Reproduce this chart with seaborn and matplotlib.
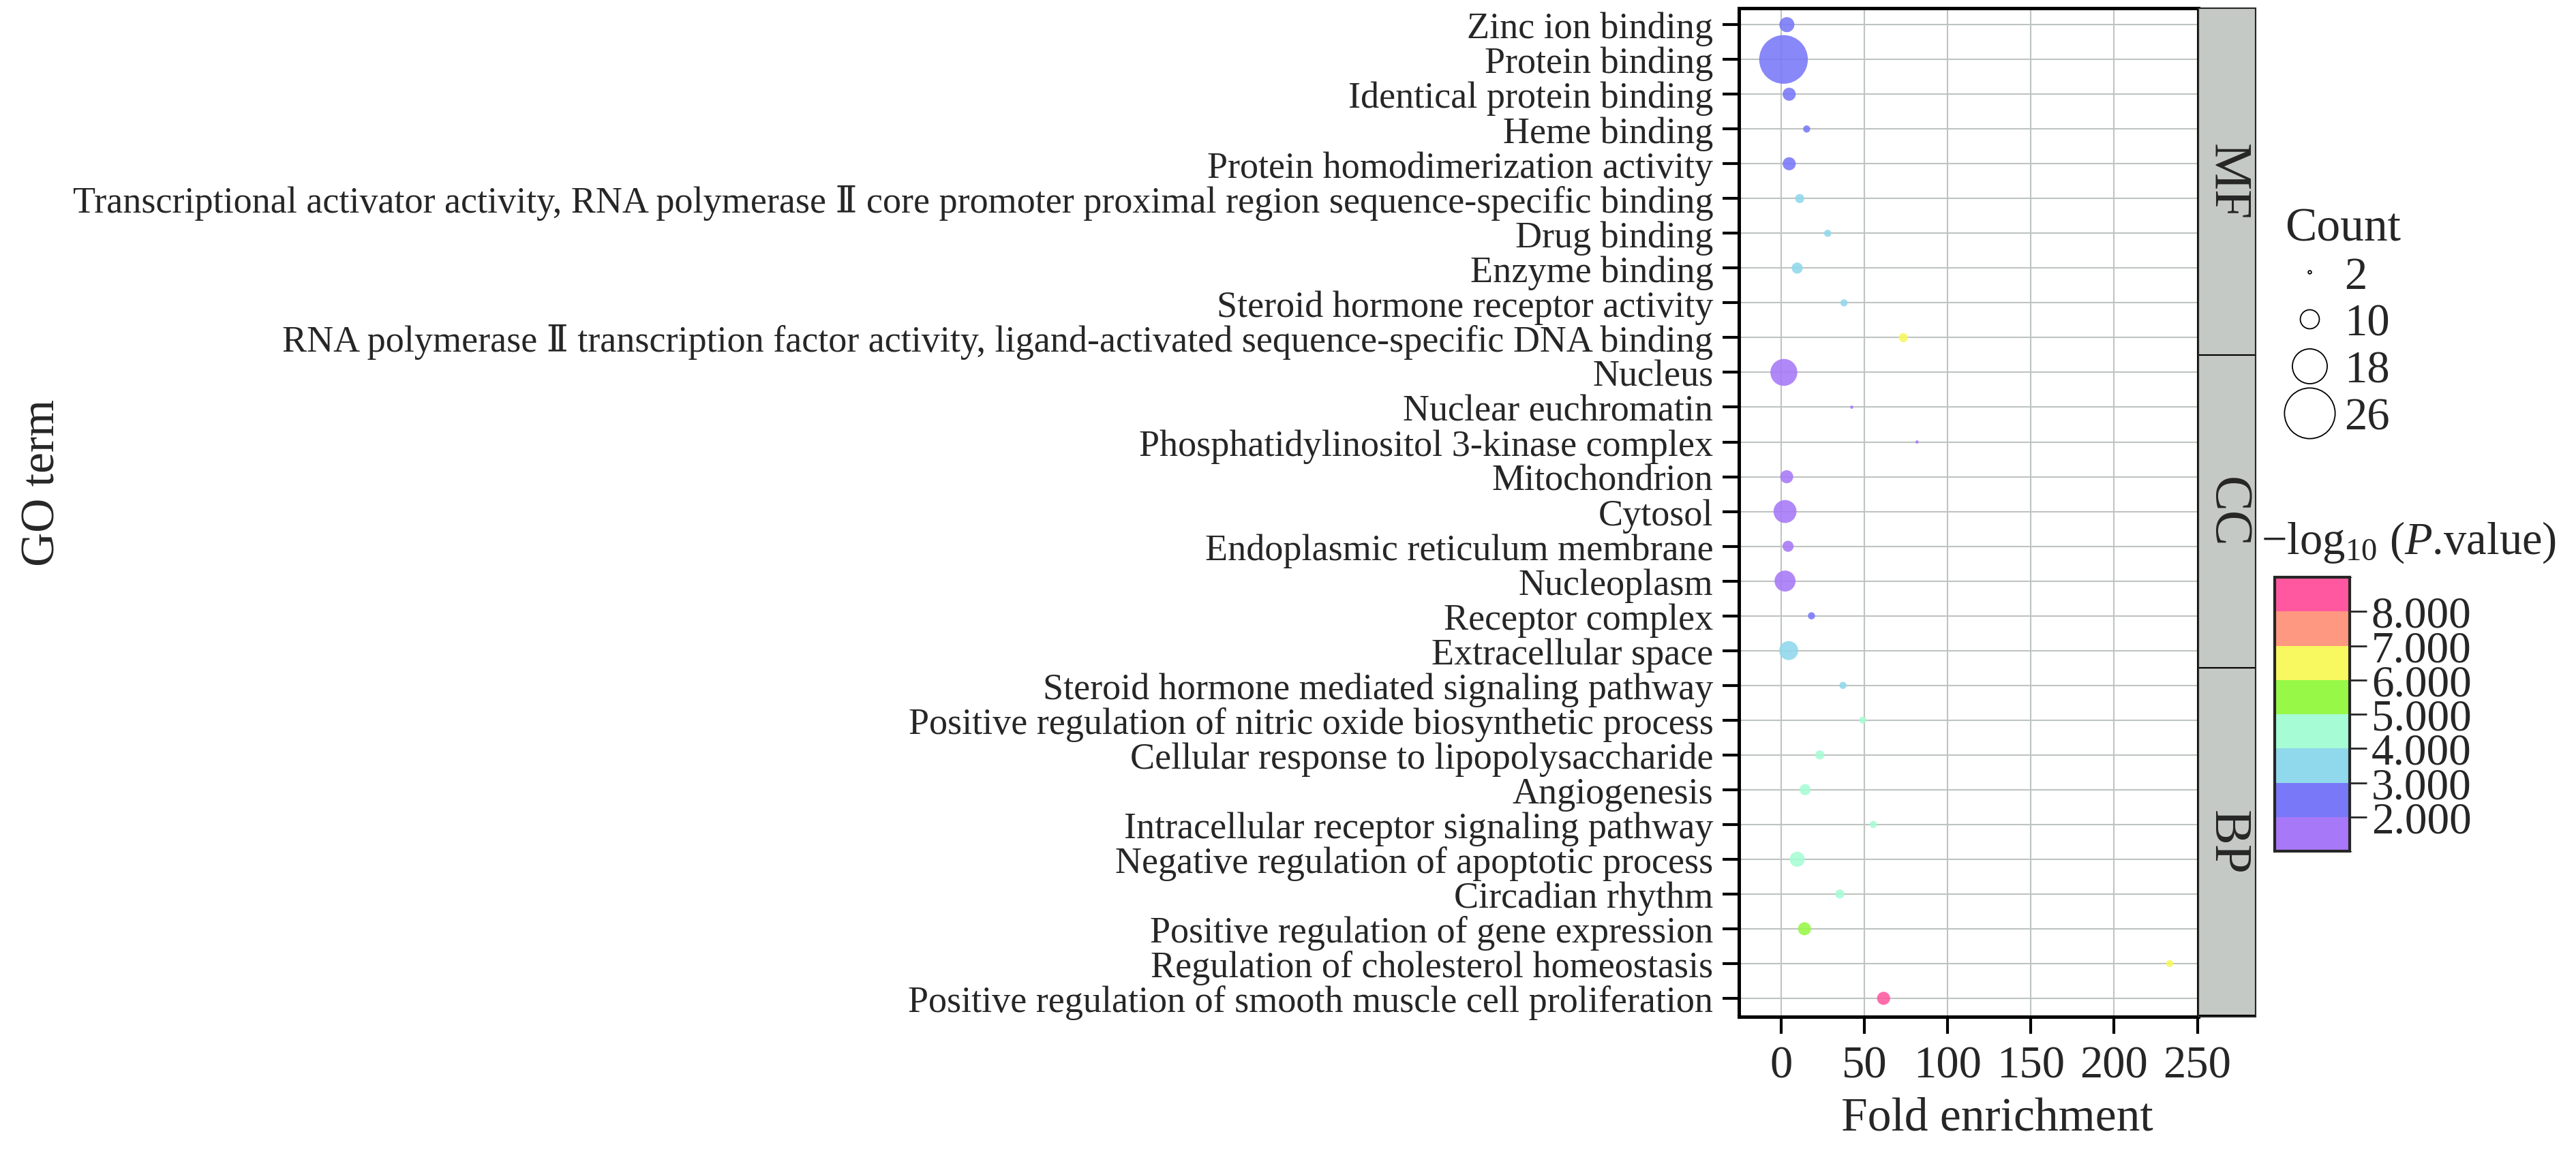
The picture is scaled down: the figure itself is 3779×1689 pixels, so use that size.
import numpy as np
import pandas as pd
import seaborn as sns
import matplotlib as mpl
import matplotlib.pyplot as plt
from matplotlib.colors import ListedColormap, BoundaryNorm
from matplotlib.lines import Line2D

# ---- data ----
mf_terms = [
    "Zinc ion binding",
    "Protein binding",
    "Identical protein binding",
    "Heme binding",
    "Protein homodimerization activity",
    "Transcriptional activator activity, RNA polymerase \u2161 core promoter proximal region sequence-specific binding",
    "Drug binding",
    "Enzyme binding",
    "Steroid hormone receptor activity",
    "RNA polymerase \u2161 transcription factor activity, ligand-activated sequence-specific DNA binding",
]
mf_fold = [3.4, 1.4, 4.8, 15.3, 4.8, 11.1, 27.9, 9.6, 37.7, 73.4]
mf_count = [8, 25, 7, 4, 7, 5, 4, 6, 4, 5]
mf_logp = [2.5, 2.6, 2.4, 2.3, 2.4, 3.4, 3.3, 3.5, 3.2, 6.4]

cc_terms = [
    "Nucleus",
    "Nuclear euchromatin",
    "Phosphatidylinositol 3-kinase complex",
    "Mitochondrion",
    "Cytosol",
    "Endoplasmic reticulum membrane",
    "Nucleoplasm",
    "Receptor complex",
    "Extracellular space",
]
cc_fold = [1.6, 42.4, 81.6, 3.3, 2.3, 4.1, 2.3, 18.2, 4.5]
cc_count = [14, 2, 2, 7, 12, 6, 11, 4, 10]
cc_logp = [1.8, 1.5, 1.4, 1.7, 1.6, 1.7, 1.7, 2.3, 3.3]

bp_terms = [
    "Steroid hormone mediated signaling pathway",
    "Positive regulation of nitric oxide biosynthetic process",
    "Cellular response to lipopolysaccharide",
    "Angiogenesis",
    "Intracellular receptor signaling pathway",
    "Negative regulation of apoptotic process",
    "Circadian rhythm",
    "Positive regulation of gene expression",
    "Regulation of cholesterol homeostasis",
    "Positive regulation of smooth muscle cell proliferation",
]
bp_fold = [37.1, 49.0, 23.2, 14.3, 55.3, 9.6, 35.2, 14.0, 233.4, 61.5]
bp_count = [4, 4, 5, 6, 4, 8, 5, 7, 4, 7]
bp_logp = [3.5, 4.3, 4.4, 4.2, 4.5, 4.6, 4.3, 5.4, 6.2, 8.3]

ontologies = ["MF", "CC", "BP"]
group_sizes = [len(mf_terms), len(cc_terms), len(bp_terms)]

# binned colour scale for -log10(P)
bin_edges = [1, 2, 3, 4, 5, 6, 7, 8, 9]
bin_colors = ["#a778f8", "#7878f8", "#90d8ec", "#a6fcd4",
              "#98f848", "#f8f860", "#ff9880", "#ff58a0"]
legend_counts = [2, 10, 18, 26]

df = pd.DataFrame({
    "term": mf_terms + cc_terms + bp_terms,
    "fold": mf_fold + cc_fold + bp_fold,
    "count": mf_count + cc_count + bp_count,
    "logp": mf_logp + cc_logp + bp_logp,
    "ontology": np.repeat(ontologies, group_sizes),
})

W, H, DPI = 3780, 1690, 100


def diameter_px(c):
    # bubble diameter grows linearly with count (as in the reference legend)
    return 2.9 * c - 1.1


def px(v):
    return v * 72 / DPI


sns.set_style("white")
plt.rcParams["font.family"] = ["Liberation Serif", "DejaVu Serif", "Noto Sans CJK SC"]
plt.rcParams["mathtext.fontset"] = "custom"
plt.rcParams["mathtext.rm"] = "Liberation Serif"
plt.rcParams["mathtext.it"] = "Liberation Serif:italic"

fig = plt.figure(figsize=(W / DPI, H / DPI), dpi=DPI)
ax = fig.add_axes([2551 / W, (H - 1493) / H, (3225 - 2551) / W, (1493 - 12.7) / H])

cmap = ListedColormap(bin_colors)
norm = BoundaryNorm(bin_edges, cmap.N)
sizes = {c: px(diameter_px(c)) ** 2 for c in df["count"].unique()}

sns.scatterplot(data=df, x="fold", y="term", hue="logp", palette=cmap, hue_norm=norm,
                size="count", sizes=sizes, alpha=0.88, linewidth=0, legend=False,
                ax=ax, zorder=3)

n = len(df)
ax.set_ylim(n - 0.47, -0.48)
ax.set_xlim(-25.4, 250.6)
ax.set_xticks([0, 50, 100, 150, 200, 250])
ax.grid(True, color="#bec4c0", linewidth=1.5)
ax.set_axisbelow(True)
for s in ax.spines.values():
    s.set_visible(True)
    s.set_color("black")
    s.set_linewidth(3.6)
ax.tick_params(axis="y", labelsize=39, length=17, width=3, pad=10, color="black", left=True)
ax.tick_params(axis="x", labelsize=48, length=18, width=3, pad=12, color="black", bottom=True)

ax.set_xlabel("Fold enrichment", fontsize=50)
ax.xaxis.set_label_coords(0.562, -0.079)
ax.set_ylabel("GO term", fontsize=50)
ax.yaxis.set_label_coords(-3.644, 0.53)

# facet strips on the right
sax = fig.add_axes([3225 / W, (H - 1493) / H, (3309 - 3225) / W, (1493 - 12.7) / H])
sax.set_ylim(ax.get_ylim())
sax.set_xlim(0, 1)
start = 0
for name, size in zip(ontologies, group_sizes):
    sax.axhspan(start - 0.5, start + size - 0.5, facecolor="#c5c9c5",
                edgecolor="black", linewidth=1.5)
    sax.text(0.5, start + (size - 1) / 2, name, rotation=-90, ha="center", va="center",
             fontsize=56)
    start += size
sax.set_xticks([])
sax.set_yticks([])
for s in sax.spines.values():
    s.set_linewidth(1.5)

# Count legend
handles = [Line2D([], [], marker="o", linestyle="none", markerfacecolor="none",
                  markeredgecolor="black", markeredgewidth=1.3,
                  markersize=px(diameter_px(c))) for c in legend_counts]
fig.legend(handles, [str(c) for c in legend_counts], title="Count",
           loc="upper left", bbox_to_anchor=(3352 / W, 1 - 305 / H),
           frameon=False, fontsize=48, title_fontsize=50, alignment="left",
           handlelength=1.07, handletextpad=0.24, labelspacing=0.12, borderpad=0,
           borderaxespad=0)

# -log10(P) colour legend
cax = fig.add_axes([3337 / W, (H - 1250) / H, 110 / W, 402 / H])
cb = fig.colorbar(mpl.cm.ScalarMappable(norm=norm, cmap=cmap), cax=cax,
                  ticks=list(range(2, 9)), format="%.3f")
cb.outline.set_linewidth(3)
cax.tick_params(length=18, width=2, labelsize=47, pad=5)
fig.text(3317 / W, 1 - 813 / H, "\u2212log$_{10}$ ($\\mathit{P}$.value)",
         fontsize=48, ha="left", va="baseline")

fig.savefig("out.png", dpi=DPI)
